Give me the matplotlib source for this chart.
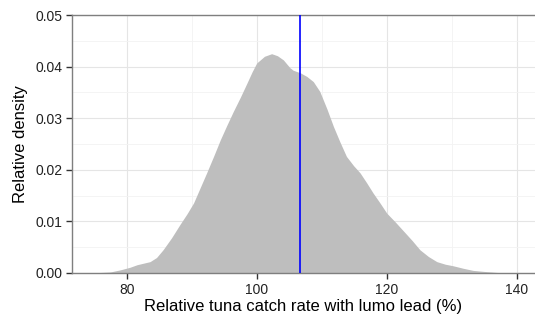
import matplotlib
matplotlib.use("Agg")
import matplotlib.pyplot as plt
from matplotlib.ticker import MultipleLocator

# density curve
catch_rate = [74.5, 76.0, 77.5, 79.0, 80.5, 81.6, 82.6, 83.6, 84.6, 85.6, 86.9, 88.2,
              89.3, 90.3, 91.3, 92.3, 93.4, 94.4, 95.4, 96.4, 97.5, 98.5, 99.3, 100.0,
              101.2, 102.3, 103.2, 104.1, 105.1, 105.6, 106.7, 107.7, 108.7, 109.7,
              110.8, 111.8, 112.8, 113.8, 114.9, 115.9, 116.9, 117.9, 119.0, 120.0,
              121.3, 122.6, 123.9, 125.1, 126.4, 127.7, 129.0, 130.2, 131.8, 133.3,
              135.0, 137.0, 139.0, 141.0]
density = [0.0000, 0.0001, 0.0002, 0.0006, 0.0011, 0.0016, 0.0019, 0.0022, 0.0030,
           0.0045, 0.0068, 0.0094, 0.0115, 0.0136, 0.0165, 0.0194, 0.0227, 0.0258,
           0.0286, 0.0313, 0.0341, 0.0368, 0.0390, 0.0407, 0.0420, 0.0425, 0.0421,
           0.0413, 0.0398, 0.0393, 0.0388, 0.0381, 0.0371, 0.0352, 0.0318, 0.0284,
           0.0254, 0.0226, 0.0208, 0.0194, 0.0175, 0.0155, 0.0135, 0.0116, 0.0099,
           0.0081, 0.0063, 0.0045, 0.0032, 0.0022, 0.0017, 0.0014, 0.0009, 0.0005,
           0.0003, 0.0001, 0.00003, 0.0000]
mean_rate = 106.7

plt.rcParams["font.family"] = ["Liberation Sans", "DejaVu Sans"]

fig = plt.figure(figsize=(5.35, 3.22), dpi=100)
ax = fig.add_axes([0.1346, 0.1522, 0.8654, 0.8012])

ax.fill_between(catch_rate, density, 0, color="#bebebe", linewidth=0, zorder=2)
ax.axvline(mean_rate, color="blue", linewidth=1.2, zorder=3)

ax.set_xlim(71.6, 142.8)
ax.set_ylim(0, 0.05)
ax.xaxis.set_major_locator(MultipleLocator(20))
ax.xaxis.set_minor_locator(MultipleLocator(10))
ax.yaxis.set_major_locator(MultipleLocator(0.01))
ax.yaxis.set_minor_locator(MultipleLocator(0.005))
ax.yaxis.set_major_formatter(matplotlib.ticker.FormatStrFormatter("%.2f"))

ax.grid(which="major", color="#e5e5e5", linewidth=0.8, zorder=0)
ax.grid(which="minor", color="#f3f3f3", linewidth=0.6, zorder=0)
ax.set_axisbelow(True)

for side in ["left", "top", "bottom"]:
    ax.spines[side].set_color("#7f7f7f")
    ax.spines[side].set_linewidth(1.0)
ax.spines["right"].set_visible(False)

ax.tick_params(which="major", direction="out", length=4, width=1, color="#333333",
               labelsize=10, labelcolor="#222222", pad=3)
ax.tick_params(which="minor", length=0)
ax.tick_params(axis="x", top=False)

ax.set_xlabel("Relative tuna catch rate with lumo lead (%)", fontsize=12, labelpad=2)
ax.set_ylabel("Relative density", fontsize=12, labelpad=5)

fig.savefig("out.png", dpi=100)
